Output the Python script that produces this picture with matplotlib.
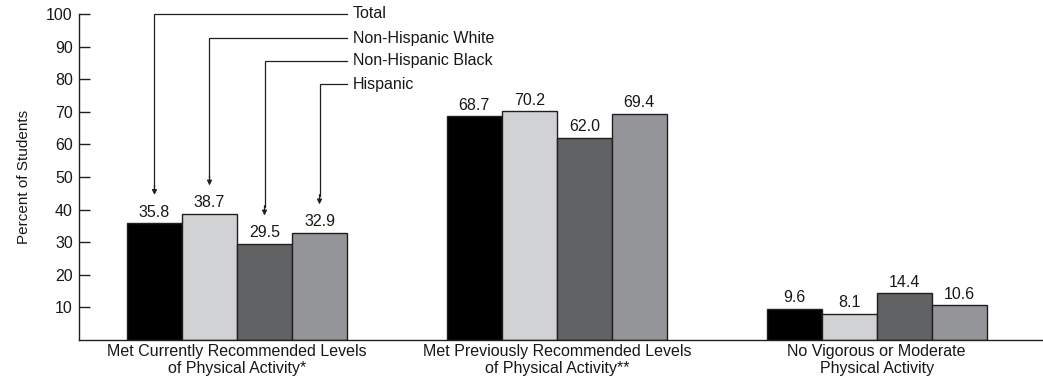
import matplotlib
matplotlib.use("Agg")
import matplotlib.pyplot as plt
import numpy as np

plt.rcParams['font.family'] = ['Liberation Sans', 'DejaVu Sans']

categories = ["Met Currently Recommended Levels\nof Physical Activity*",
              "Met Previously Recommended Levels\nof Physical Activity**",
              "No Vigorous or Moderate\nPhysical Activity"]
groups = ["Total", "Non-Hispanic White", "Non-Hispanic Black", "Hispanic"]
values = {
    "Total": [35.8, 68.7, 9.6],
    "Non-Hispanic White": [38.7, 70.2, 8.1],
    "Non-Hispanic Black": [29.5, 62.0, 14.4],
    "Hispanic": [32.9, 69.4, 10.6],
}
colors = ["#000000", "#d1d2d4", "#616264", "#939598"]
yticks = [10, 20, 30, 40, 50, 60, 70, 80, 90, 100]

TXT = "#1a1718"
FS = 11.5

fig = plt.figure(figsize=(10.43, 3.79), dpi=100)
ax = fig.add_axes([79 / 1043, 39 / 379, 1 - 79 / 1043, (340 - 14) / 379])

width = 0.172
x = np.arange(len(categories))
offsets = (np.arange(len(groups)) - 1.5) * width
edge = "#231f20"

for i, g in enumerate(groups):
    vals = values[g]
    ax.bar(x + offsets[i], vals, width=width, color=colors[i],
           edgecolor=edge, linewidth=1.0, zorder=2)
    for xi, v in zip(x + offsets[i], vals):
        ax.annotate(f"{v:.1f}", (xi, v), xytext=(0, 2.5), textcoords="offset points",
                    ha="center", va="bottom", fontsize=FS, color=TXT)

ax.set_xlim(-0.494, 2.52)
ax.set_ylim(0, 100)
ax.set_yticks(yticks)
ax.set_yticklabels([str(t) for t in yticks], fontsize=FS, color=TXT)
ax.set_xticks(x)
ax.set_xticklabels(categories, fontsize=FS, color=TXT, linespacing=1.12)
ax.tick_params(axis="x", length=0, pad=3)
ax.tick_params(axis="y", length=8, width=1, color=edge, direction="in", pad=4.5)
for s in ["top", "right"]:
    ax.spines[s].set_visible(False)
for s in ["left", "bottom"]:
    ax.spines[s].set_color(edge)
    ax.spines[s].set_linewidth(1.0)
ax.set_ylabel("Percent of Students", fontsize=11, color=TXT)
ax.yaxis.set_label_coords((31 - 79) / 964, 0.5)

# Callout legend: labelled leader lines pointing into the first group
label_levels = [100, 92.6, 85.6, 78.5]
line_end = x[0] + (347 - 237) / 320
first_vals = [values[g][0] for g in groups]
for i, g in enumerate(groups):
    bx = x[0] + offsets[i]
    yl = label_levels[i]
    tip = first_vals[i] + 8.7
    ax.plot([line_end, bx, bx], [yl, yl, tip + 2.5], color=edge, lw=0.9,
            clip_on=False, solid_joinstyle="miter")
    ax.annotate("", xy=(bx, tip), xytext=(bx, tip + 3),
                arrowprops=dict(arrowstyle="-|>", color=edge, lw=0.9,
                                mutation_scale=7, shrinkA=0, shrinkB=0),
                annotation_clip=False)
    ax.text(line_end + 0.018, yl, g, ha="left", va="center", fontsize=FS,
            color=TXT)

fig.savefig("out.png", dpi=100)
